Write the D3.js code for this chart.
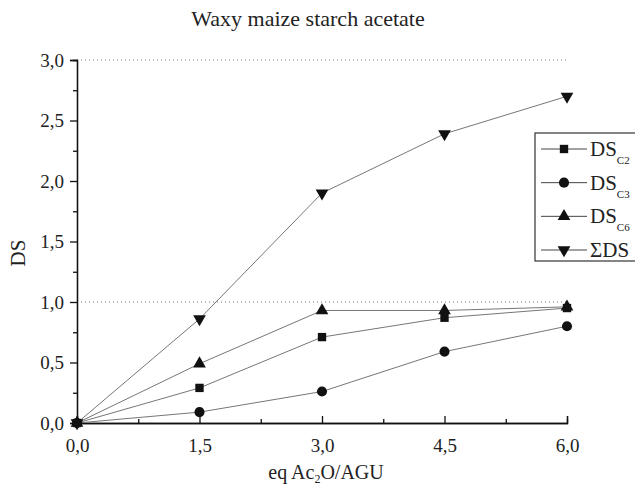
<!DOCTYPE html>
<html>
<head>
<meta charset="utf-8">
<script src="https://cdn.jsdelivr.net/npm/d3@7"></script>
<style>
  body { margin: 0; background: #fff; }
  svg text { font-family: "Liberation Serif", "Times New Roman", serif; fill: #222; }
</style>
</head>
<body>
<svg id="canvas" width="635" height="487"></svg>
<script>
var eqValues = [0, 1.5, 3.0, 4.5, 6.0];
var dsC2 = [0, 0.29, 0.71, 0.87, 0.95];
var dsC3 = [0, 0.09, 0.26, 0.59, 0.80];
var dsC6 = [0, 0.49, 0.93, 0.93, 0.96];
var dsSum = [0, 0.86, 1.90, 2.39, 2.70];
var xTicks = [0, 1.5, 3.0, 4.5, 6.0];
var yTicks = [0, 0.5, 1.0, 1.5, 2.0, 2.5, 3.0];
var refLines = [1.0, 3.0];

var series = [
  { name: 'DS', sub: 'C2', values: dsC2, symbol: d3.symbolSquare, size: 70, rot: 0 },
  { name: 'DS', sub: 'C3', values: dsC3, symbol: d3.symbolCircle, size: 80, rot: 0 },
  { name: 'DS', sub: 'C6', values: dsC6, symbol: d3.symbolTriangle, size: 70, rot: 0 },
  { name: '\u03a3DS', sub: '', values: dsSum, symbol: d3.symbolTriangle, size: 70, rot: 180 }
];

var svg = d3.select('#canvas');
var x = d3.scaleLinear().domain([0, 6]).range([77, 567]);
var y = d3.scaleLinear().domain([0, 3]).range([423, 60]);

var fmt = function(d) { return d3.format('.1f')(d).replace('.', ','); };

// dotted reference lines
svg.selectAll('.ref').data(refLines).enter().append('line')
  .attr('x1', x(0)).attr('x2', x(6))
  .attr('y1', function(d) { return y(d); }).attr('y2', function(d) { return y(d); })
  .attr('stroke', '#777').attr('stroke-width', 1).attr('stroke-dasharray', '1,3');

// axes
var yAxis = d3.axisLeft(y).tickValues(yTicks).tickFormat(fmt).tickSize(7).tickPadding(6);
var yMinor = d3.axisLeft(y).tickValues(d3.range(0.25, 3, 0.5)).tickFormat('').tickSize(4);
var xAxis = d3.axisBottom(x).tickValues(xTicks).tickFormat(fmt).tickSize(-7).tickPadding(16);
var xMinor = d3.axisBottom(x).tickValues(d3.range(0.75, 6, 1.5)).tickFormat('').tickSize(-4);

function styleAxis(g) {
  g.attr('font-family', '"Liberation Serif", serif');
  g.select('.domain').attr('stroke', '#111').attr('stroke-width', 1.3);
  g.selectAll('.tick line').attr('stroke', '#111').attr('stroke-width', 1.3);
  g.selectAll('.tick text').style('font-family', '"Liberation Serif", serif')
    .style('font-size', '19px').attr('fill', '#222');
}

svg.append('g').attr('transform', 'translate(' + x(0) + ',0)').call(yMinor).call(styleAxis);
svg.append('g').attr('transform', 'translate(' + x(0) + ',0)').call(yAxis).call(styleAxis);
svg.append('g').attr('transform', 'translate(0,' + y(0) + ')').call(xMinor).call(styleAxis);
svg.append('g').attr('transform', 'translate(0,' + y(0) + ')').call(xAxis).call(styleAxis);

// lines and markers
var line = d3.line()
  .x(function(d, i) { return x(eqValues[i]); })
  .y(function(d) { return y(d); });

series.forEach(function(s) {
  svg.append('path').datum(s.values)
    .attr('d', line).attr('fill', 'none')
    .attr('stroke', '#666').attr('stroke-width', 0.9);
});
series.forEach(function(s) {
  svg.selectAll(null).data(s.values).enter().append('path')
    .attr('d', d3.symbol().type(s.symbol).size(s.size))
    .attr('transform', function(d, i) {
      return 'translate(' + x(eqValues[i]) + ',' + y(d) + ') rotate(' + s.rot + ')';
    })
    .attr('fill', '#111');
});

// title and axis labels
svg.append('text').attr('x', 308).attr('y', 26).attr('text-anchor', 'middle')
  .style('font-size', '22px').text('Waxy maize starch acetate');

svg.append('text').attr('transform', 'translate(25,253) rotate(-90)')
  .attr('text-anchor', 'middle').style('font-size', '21px').text('DS');

var xl = svg.append('text').attr('x', 326).attr('y', 479).attr('text-anchor', 'middle')
  .style('font-size', '20px');
xl.append('tspan').text('eq Ac');
xl.append('tspan').attr('dy', 4).style('font-size', '12px').text('2');
xl.append('tspan').attr('dy', -4).text('O/AGU');

// legend
var legend = svg.append('g');
legend.append('rect').attr('x', 535).attr('y', 133).attr('width', 110).attr('height', 128)
  .attr('fill', '#fff').attr('stroke', '#333').attr('stroke-width', 1.2);

var rowY = d3.scalePoint().domain(d3.range(series.length)).range([149, 250]);
series.forEach(function(s, i) {
  var ry = rowY(i);
  legend.append('line').attr('x1', 541).attr('x2', 587).attr('y1', ry).attr('y2', ry)
    .attr('stroke', '#444').attr('stroke-width', 1);
  legend.append('path').attr('d', d3.symbol().type(s.symbol).size(s.size))
    .attr('transform', 'translate(564,' + ry + ') rotate(' + s.rot + ')')
    .attr('fill', '#111');
  var t = legend.append('text').attr('x', 590).attr('y', ry + 7).style('font-size', '21px');
  t.append('tspan').text(s.name);
  if (s.sub) t.append('tspan').attr('dy', 8).style('font-size', '11px').text(s.sub);
});
</script>
</body>
</html>
